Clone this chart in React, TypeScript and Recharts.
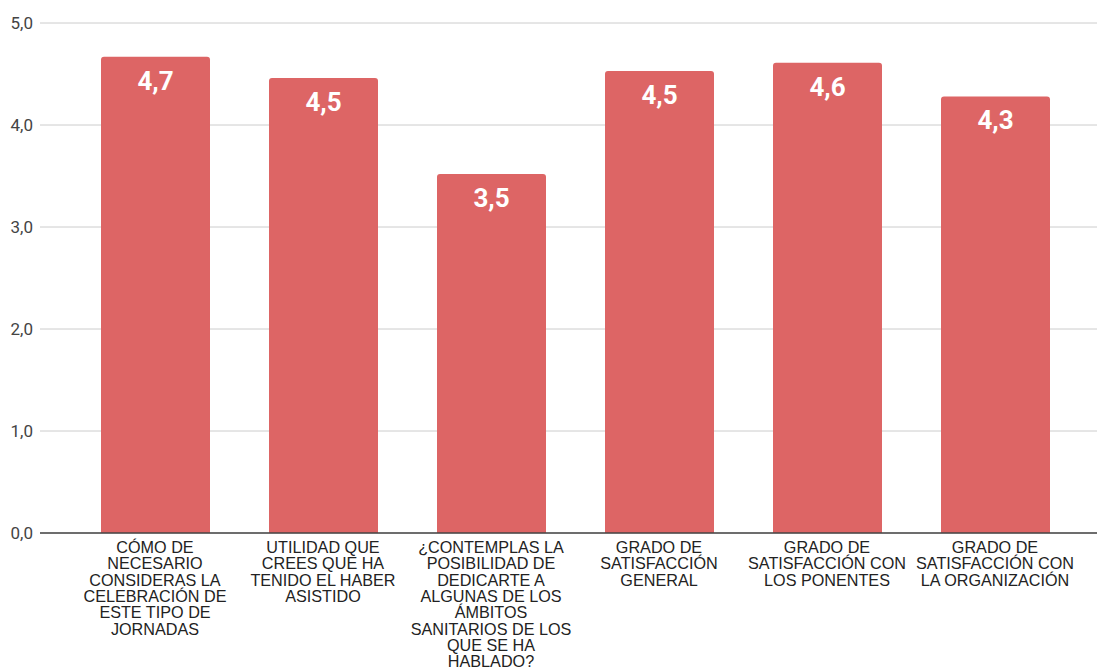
import { BarChart, Bar, XAxis, YAxis, CartesianGrid, LabelList } from 'recharts'

// category labels, pre-wrapped like the original
const CATEGORIES = [
  ['CÓMO DE', 'NECESARIO', 'CONSIDERAS LA', 'CELEBRACIÓN DE', 'ESTE TIPO DE', 'JORNADAS'],
  ['UTILIDAD QUE', 'CREES QUE HA', 'TENIDO EL HABER', 'ASISTIDO'],
  ['¿CONTEMPLAS LA', 'POSIBILIDAD DE', 'DEDICARTE A', 'ALGUNAS DE LOS', 'ÁMBITOS', 'SANITARIOS DE LOS', 'QUE SE HA', 'HABLADO?'],
  ['GRADO DE', 'SATISFACCIÓN', 'GENERAL'],
  ['GRADO DE', 'SATISFACCIÓN CON', 'LOS PONENTES'],
  ['GRADO DE', 'SATISFACCIÓN CON', 'LA ORGANIZACIÓN'],
]

const VALUES = [4.67, 4.46, 3.52, 4.53, 4.61, 4.28]

const Y_TICKS = [0, 1, 2, 3, 4, 5]

const BAR_COLOR = '#dd6565'

const data = CATEGORIES.map((lines, i) => ({
  name: lines.join(' '),
  idx: i,
  value: VALUES[i],
}))

const fmt = (v: number) => v.toFixed(1).replace('.', ',')

function CategoryTick(props: any) {
  const { x, y, payload } = props
  const lines = CATEGORIES[payload.index] ?? [String(payload.value)]
  return (
    <text
      x={x}
      y={y}
      textAnchor="middle"
      fill="#222"
      fontSize={16.2}
      fontFamily="'Liberation Sans', Arial, sans-serif"
    >
      {lines.map((ln, i) => (
        <tspan key={i} x={x} dy={i === 0 ? 12 : 16.3}>
          {ln}
        </tspan>
      ))}
    </text>
  )
}

function BarValue(props: any) {
  const { x, y, width, value } = props
  return (
    <text
      x={x + width / 2}
      y={y + 33}
      textAnchor="middle"
      fill="#fff"
      fontSize={26}
      fontWeight={700}
      fontFamily="Roboto, sans-serif"
    >
      {fmt(Number(value))}
    </text>
  )
}

export default function App() {
  return (
    <div style={{ position: 'absolute', left: 0, top: 0, width: 1097, height: 671, background: '#fff' }}>
      <BarChart
        width={1097}
        height={671}
        data={data}
        margin={{ top: 23, right: 0, bottom: 0, left: 0 }}
      >
        <CartesianGrid vertical={false} stroke="#cccccc" />
        <XAxis
          dataKey="name"
          interval={0}
          height={138}
          padding={{ left: 31, right: 18 }}
          tickLine={false}
          axisLine={{ stroke: '#444', strokeWidth: 1.5 }}
          tick={<CategoryTick />}
        />
        <YAxis
          type="number"
          domain={[0, 5]}
          ticks={Y_TICKS}
          width={40}
          axisLine={false}
          tickLine={false}
          tickMargin={1}
          tickFormatter={fmt}
          tick={{ fill: '#444', fontSize: 17, fontFamily: 'Roboto, sans-serif' }}
        />
        <Bar dataKey="value" fill={BAR_COLOR} barSize={109} radius={[3, 3, 0, 0]} isAnimationActive={false}>
          <LabelList dataKey="value" content={<BarValue />} />
        </Bar>
      </BarChart>
    </div>
  )
}
